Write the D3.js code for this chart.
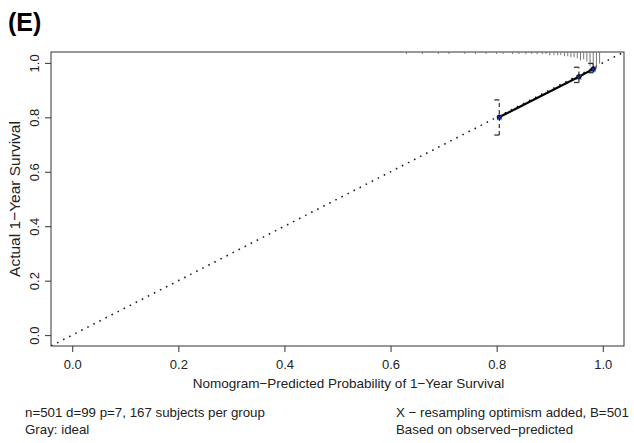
<!DOCTYPE html>
<html>
<head>
<meta charset="utf-8">
<script src="https://cdn.jsdelivr.net/npm/d3@7"></script>
<style>
  html, body { margin: 0; padding: 0; background: #fff; }
  svg { display: block; font-family: "Liberation Sans", Arial, Helvetica, sans-serif; }
</style>
</head>
<body>
<svg id="chart" width="634" height="443"></svg>
<script>
// Calibration groups: mean predicted vs observed (Kaplan-Meier) 1-year survival
const predicted = [0.805, 0.955, 0.982];
const observed  = [0.801, 0.949, 0.978];
const ciLower   = [0.735, 0.928, 0.964];
const ciUpper   = [0.864, 0.984, 0.998];
// Bias-corrected estimates (resampling optimism added)
const corrected = [0.799, 0.947, 0.976];

// Distribution of predicted risks (top rug): value and frequency
const rugValues = [0.630, 0.660, 0.690, 0.710, 0.740, 0.760, 0.780, 0.800, 0.812, 0.830,
                   0.842, 0.855, 0.866, 0.876, 0.886, 0.893, 0.900, 0.908, 0.915, 0.921,
                   0.928, 0.934, 0.940, 0.946, 0.952, 0.958, 0.964, 0.970, 0.976, 0.982,
                   0.988, 0.994];
const rugCounts = [1, 1, 1, 1, 1, 1, 1, 1, 2, 1,
                   2, 2, 1, 2, 2, 2, 3, 3, 3, 3,
                   4, 4, 5, 5, 6, 8, 7, 9, 13, 18,
                   16, 11];

const xTicks = [0.0, 0.2, 0.4, 0.6, 0.8, 1.0];
const yTicks = [0.0, 0.2, 0.4, 0.6, 0.8, 1.0];

const panelLabel = "(E)";
const xTitle = "Nomogram\u2212Predicted Probability of 1\u2212Year Survival";
const yTitle = "Actual 1\u2212Year Survival";
const subLeft = ["n=501 d=99 p=7, 167 subjects per group", "Gray: ideal"];
const subRight = ["X \u2212 resampling optimism added, B=501", "Based on observed\u2212predicted"];

const svg = d3.select("#chart");
const box = { left: 51, right: 624, top: 52, bottom: 346 };

const x = d3.scaleLinear().domain([-0.04, 1.04]).range([box.left, box.right]);
const y = d3.scaleLinear().domain([-0.04, 1.04]).range([box.bottom, box.top]);

const fmt = d3.format(".1f");
const ink = "#222";

// Plot frame
svg.append("rect")
  .attr("x", box.left).attr("y", box.top)
  .attr("width", box.right - box.left).attr("height", box.bottom - box.top)
  .attr("fill", "none").attr("stroke", "#333").attr("stroke-width", 1);

// X axis
const xAxis = svg.append("g")
  .attr("transform", `translate(0,${box.bottom})`)
  .call(d3.axisBottom(x).tickValues(xTicks).tickFormat(fmt).tickSize(6).tickPadding(8));
xAxis.select(".domain").remove();
xAxis.selectAll("line").attr("stroke", "#333");
xAxis.selectAll("text").attr("font-size", 13).attr("fill", ink)
  .attr("font-family", "Liberation Sans, Arial, sans-serif");

// Y axis with rotated labels
const yAxis = svg.append("g")
  .attr("transform", `translate(${box.left},0)`)
  .call(d3.axisLeft(y).tickValues(yTicks).tickFormat(fmt).tickSize(6));
yAxis.select(".domain").remove();
yAxis.selectAll("line").attr("stroke", "#333");
yAxis.selectAll("text")
  .attr("font-size", 13).attr("fill", ink)
  .attr("font-family", "Liberation Sans, Arial, sans-serif")
  .attr("text-anchor", "middle")
  .attr("x", 0).attr("dy", 0)
  .attr("transform", "translate(-12,0) rotate(-90)");

// Ideal line
svg.append("clipPath").attr("id", "plotclip")
  .append("rect")
  .attr("x", box.left).attr("y", box.top)
  .attr("width", box.right - box.left).attr("height", box.bottom - box.top);

svg.append("line")
  .attr("clip-path", "url(#plotclip)")
  .attr("x1", x(-0.04)).attr("y1", y(-0.04))
  .attr("x2", x(1.04)).attr("y2", y(1.04))
  .attr("stroke", ink).attr("stroke-width", 1.6)
  .attr("stroke-dasharray", "1.6,5.2");

// Rug of predicted values hanging from the top frame
const rugLen = d3.scaleLinear().domain([0, d3.max(rugCounts)]).range([0, 19]);
svg.append("g").selectAll("line")
  .data(rugValues.map((v, i) => ({ v, c: rugCounts[i] })))
  .join("line")
  .attr("x1", d => x(d.v)).attr("x2", d => x(d.v))
  .attr("y1", box.top).attr("y2", d => box.top + Math.max(2, rugLen(d.c)))
  .attr("stroke", "#777").attr("stroke-width", 1);

// Error bars (confidence intervals of observed survival)
const groups = predicted.map((p, i) => ({ p, o: observed[i], lo: ciLower[i], hi: ciUpper[i], c: corrected[i] }));
const eb = svg.append("g");
eb.selectAll("line.bar").data(groups).join("line").attr("class", "bar")
  .attr("x1", d => x(d.p)).attr("x2", d => x(d.p))
  .attr("y1", d => y(d.lo)).attr("y2", d => y(d.hi))
  .attr("stroke", "#444").attr("stroke-width", 1.3).attr("stroke-dasharray", "4,3");
eb.selectAll("line.capHi").data(groups).join("line").attr("class", "capHi")
  .attr("x1", d => x(d.p) - 5).attr("x2", d => x(d.p))
  .attr("y1", d => y(d.hi)).attr("y2", d => y(d.hi))
  .attr("stroke", "#333").attr("stroke-width", 1.3);
eb.selectAll("line.capLo").data(groups).join("line").attr("class", "capLo")
  .attr("x1", d => x(d.p) - 5).attr("x2", d => x(d.p))
  .attr("y1", d => y(d.lo)).attr("y2", d => y(d.lo))
  .attr("stroke", "#333").attr("stroke-width", 1.3);

// Observed calibration curve
svg.append("path")
  .datum(groups)
  .attr("d", d3.line().x(d => x(d.p)).y(d => y(d.o)))
  .attr("fill", "none").attr("stroke", "#000").attr("stroke-width", 2.2);

svg.append("g").selectAll("circle").data(groups).join("circle")
  .attr("cx", d => x(d.p)).attr("cy", d => y(d.o)).attr("r", 2.6)
  .attr("fill", "#000");

// Bias-corrected markers
const xs = 2.4;
svg.append("g").selectAll("path").data(groups).join("path")
  .attr("d", d => {
    const cx = x(d.p), cy = y(d.c);
    return `M${cx - xs},${cy - xs}L${cx + xs},${cy + xs}M${cx - xs},${cy + xs}L${cx + xs},${cy - xs}`;
  })
  .attr("stroke", "#3344cc").attr("stroke-width", 1).attr("fill", "none");

// Titles
svg.append("text").attr("x", 8).attr("y", 31)
  .attr("font-size", 25).attr("font-weight", "bold").attr("fill", "#000")
  .text(panelLabel);

svg.append("text")
  .attr("x", (box.left + box.right) / 2 + 11).attr("y", 388)
  .attr("text-anchor", "middle").attr("font-size", 13.5).attr("fill", ink)
  .text(xTitle);

svg.append("text")
  .attr("transform", `translate(20,${(box.top + box.bottom) / 2}) rotate(-90)`)
  .attr("text-anchor", "middle").attr("font-size", 15.5).attr("fill", ink)
  .text(yTitle);

svg.append("g").selectAll("text").data(subLeft).join("text")
  .attr("x", 25).attr("y", (d, i) => 417 + i * 16.5)
  .attr("font-size", 13.3).attr("fill", ink)
  .text(d => d);

svg.append("g").selectAll("text").data(subRight).join("text")
  .attr("x", 396).attr("y", (d, i) => 417 + i * 16.5)
  .attr("font-size", 13.3).attr("fill", ink)
  .text(d => d);
</script>
</body>
</html>
